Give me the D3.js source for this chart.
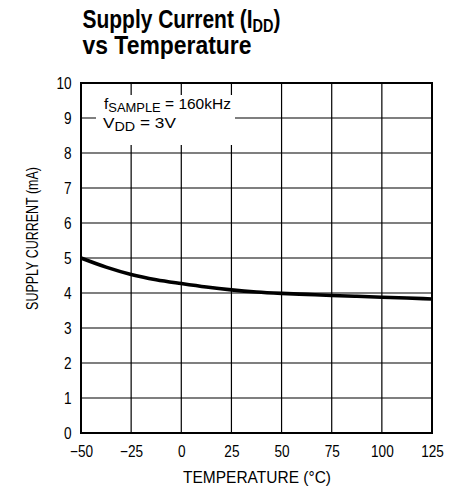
<!DOCTYPE html>
<html><head><meta charset="utf-8">
<script src="https://cdn.jsdelivr.net/npm/d3@7"></script>
<style>
body{margin:0;background:#fff;}
text{font-family:"Liberation Sans","Helvetica",sans-serif;fill:#000;}
</style></head>
<body><svg id="c" width="463" height="491"></svg>
<script>
const temps = [-50, -37.5, -25, -12.5, 0, 12.5, 25, 37.5, 50, 62.5, 75, 87.5, 100, 112.5, 125];
const current = [5.0, 4.74, 4.53, 4.38, 4.27, 4.17, 4.09, 4.03, 3.99, 3.96, 3.93, 3.905, 3.88, 3.855, 3.83];
const xTicks = [-50, -25, 0, 25, 50, 75, 100, 125];
const yTicks = [0, 1, 2, 3, 4, 5, 6, 7, 8, 9, 10];

const svg = d3.select("#c");
const L = 81, R = 432, T = 83, B = 433;
const x = d3.scaleLinear().domain([-50, 125]).range([L, R]);
const y = d3.scaleLinear().domain([0, 10]).range([B, T]);

// helper: draw condensed text fitted to a target width
function fitted(x0, y0, width, anchor, build, rot) {
  const g = svg.append("g");
  const t = g.append("text").attr("text-anchor", anchor);
  build(t);
  const w = t.node().getBBox().width;
  g.attr("transform", `translate(${x0},${y0})${rot ? " rotate(" + rot + ")" : ""} scale(${width / w},1)`);
  return t;
}

// grid
svg.append("g").selectAll("line").data(xTicks).join("line")
  .attr("x1", d => x(d)).attr("x2", d => x(d)).attr("y1", T).attr("y2", B)
  .attr("stroke", "#000").attr("stroke-width", 1.2);
svg.append("g").selectAll("line").data(yTicks).join("line")
  .attr("x1", L).attr("x2", R).attr("y1", d => y(d)).attr("y2", d => y(d))
  .attr("stroke", "#000").attr("stroke-width", 1.2);

// annotation mask
svg.append("rect").attr("x", 96).attr("y", 95).attr("width", 139).attr("height", 50).attr("fill", "#fff");

// frame
svg.append("rect").attr("x", L).attr("y", T).attr("width", R - L).attr("height", B - T)
  .attr("fill", "none").attr("stroke", "#000").attr("stroke-width", 2);

// tick labels (condensed)
const TS = 0.85;
const xa = d3.axisBottom(x).tickValues(xTicks).tickSize(0).tickPadding(0)
  .tickFormat(d => d < 0 ? "\u2212" + Math.abs(d) : d);
const gx = svg.append("g").attr("transform", `translate(0,${B})`).call(xa);
gx.select(".domain").remove();
gx.selectAll("text").style("font-size", "16px").style("font-family", null)
  .attr("y", 0).attr("dy", null)
  .attr("transform", `translate(0,24) scale(${TS},1)`);

const ya = d3.axisLeft(y).tickValues(yTicks).tickSize(0).tickPadding(0);
const gy = svg.append("g").attr("transform", `translate(${L},0)`).call(ya);
gy.select(".domain").remove();
gy.selectAll("text").style("font-size", "16px").style("font-family", null)
  .attr("x", 0).attr("dy", "0.36em")
  .attr("transform", `translate(-9.5,0) scale(${TS},1)`);

// curve
const line = d3.line().x((d, i) => x(temps[i])).y(d => y(d)).curve(d3.curveMonotoneX);
svg.append("path").datum(current).attr("d", line)
  .attr("fill", "none").attr("stroke", "#000").attr("stroke-width", 3.6);

// titles
fitted(82.5, 27.5, 198, "start", t => {
  t.style("font-size", "26px").style("font-weight", "bold");
  t.append("tspan").text("Supply Current (I");
  t.append("tspan").attr("dy", 4).style("font-size", "18px").text("DD");
  t.append("tspan").attr("dy", -4).text(")");
});
fitted(82.5, 53.5, 169, "start", t => {
  t.style("font-size", "26px").style("font-weight", "bold").text("vs Temperature");
});

// annotation
fitted(104, 109, 127, "start", t => {
  t.style("font-size", "15px");
  t.append("tspan").text("f");
  t.append("tspan").attr("dy", 3).style("font-size", "12.5px").text("SAMPLE");
  t.append("tspan").attr("dy", -3).text(" = 160kHz");
});
fitted(103, 128, 73, "start", t => {
  t.style("font-size", "15px");
  t.append("tspan").text("V");
  t.append("tspan").attr("dy", 3).style("font-size", "12.5px").text("DD");
  t.append("tspan").attr("dy", -3).text(" = 3V");
});

// axis titles
fitted(257, 483, 148, "middle", t => {
  t.style("font-size", "16px").text("TEMPERATURE (\u00B0C)");
});
fitted(38, 238.5, 143, "middle", t => {
  t.style("font-size", "16px").text("SUPPLY CURRENT (mA)");
}, -90);
</script></body></html>
